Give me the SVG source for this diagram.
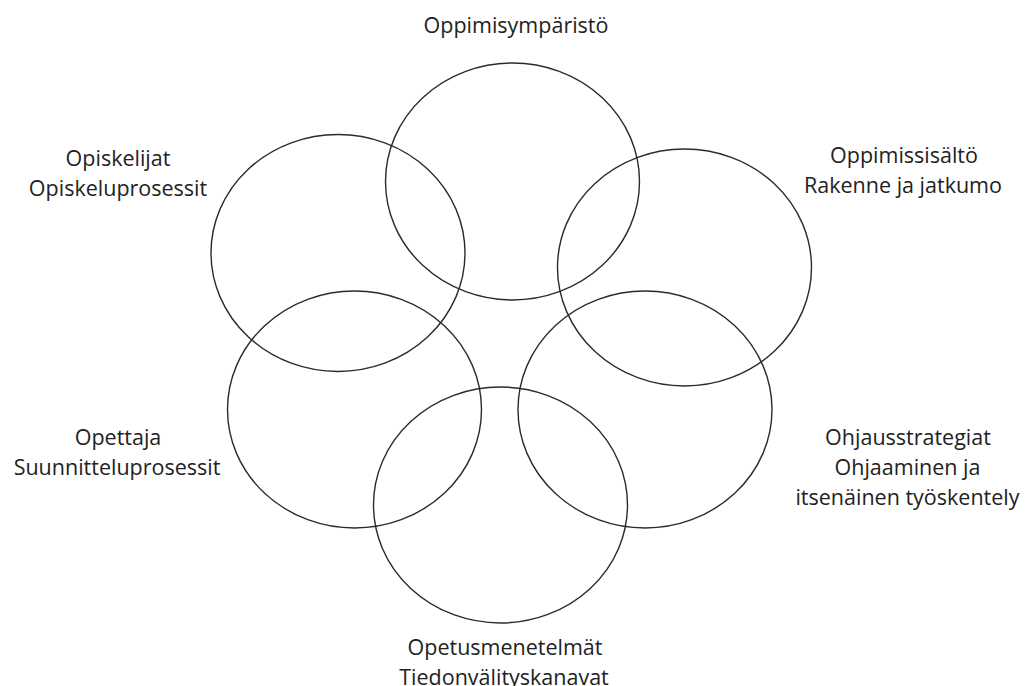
<svg xmlns="http://www.w3.org/2000/svg" width="1027" height="686" viewBox="0 0 1027 686">
<style>
.c{fill:none;stroke:#2b2b2b;stroke-width:1.4}
.t{font-family:"Open Sans","Liberation Sans",sans-serif;font-size:21.5px;fill:#222;text-anchor:middle}
</style>
<rect x="0" y="0" width="1027" height="686" fill="#fff"/>
<g id="oppimisymparisto">
<ellipse class="c" cx="512.5" cy="181.5" rx="127" ry="118.5"/>
<text class="t" x="516" y="33">Oppimisympäristö</text>
</g>
<g id="opiskelijat">
<ellipse class="c" cx="338" cy="253" rx="127" ry="118.5"/>
<text class="t" x="118" y="166">Opiskelijat</text>
<text class="t" x="118" y="196">Opiskeluprosessit</text>
</g>
<g id="oppimissisalto">
<ellipse class="c" cx="684.5" cy="267.5" rx="127" ry="118.5"/>
<text class="t" x="904" y="163">Oppimissisältö</text>
<text class="t" x="903" y="193">Rakenne ja jatkumo</text>
</g>
<g id="opettaja">
<ellipse class="c" cx="354.5" cy="409.5" rx="127" ry="118.5"/>
<text class="t" x="118" y="445">Opettaja</text>
<text class="t" x="117" y="475">Suunnitteluprosessit</text>
</g>
<g id="ohjausstrategiat">
<ellipse class="c" cx="645" cy="409.5" rx="127" ry="118.5"/>
<text class="t" x="908" y="445">Ohjausstrategiat</text>
<text class="t" x="907.5" y="475">Ohjaaminen ja</text>
<text class="t" x="907.5" y="505">itsenäinen työskentely</text>
</g>
<g id="opetusmenetelmat">
<ellipse class="c" cx="500.5" cy="505" rx="127" ry="118"/>
<text class="t" x="505" y="655">Opetusmenetelmät</text>
<text class="t" x="504" y="685">Tiedonvälityskanavat</text>
</g>
</svg>
